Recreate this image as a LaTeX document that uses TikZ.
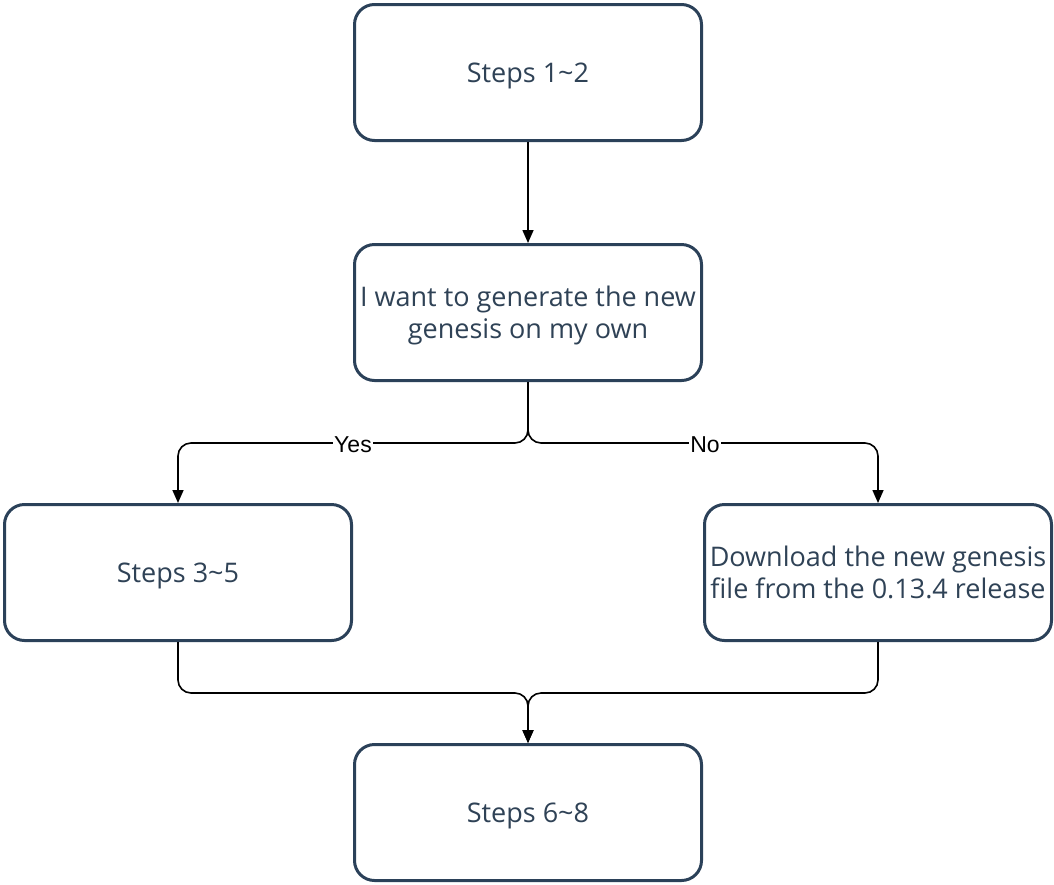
\documentclass[tikz,border=0pt]{standalone}
\usepackage{fontspec}
\setmainfont{Open Sans}
\newfontfamily\lblfont{Liberation Sans}
\usetikzlibrary{arrows.meta}
\definecolor{boxline}{HTML}{2B4159}
\definecolor{boxtext}{HTML}{2F4256}
\newcommand\boxtxt[1]{\raisebox{0pt}[\dimexpr\height+7pt\relax][\depth]{\begin{tabular}{@{}c@{}}#1\end{tabular}}}
\begin{document}
\begin{tikzpicture}[x=1pt,y=-1pt,
  stepbox/.style={draw=boxline, line width=3pt, rounded corners=20pt, fill=white,
    minimum width=347pt, minimum height=136pt, inner sep=0pt, align=center,
    text=boxtext, font=\fontsize{27}{31.5}\selectfont},
  conn/.style={draw=black, line width=1.6pt, rounded corners=13pt,
    -{Triangle[length=13pt,width=11pt]}},
  lbl/.style={fill=white, inner sep=1pt, text=black, font=\lblfont\fontsize{23}{27}\selectfont}]
\useasboundingbox (0,0) rectangle (1054,884);
\node[stepbox] (s12) at (528,72.5) {\boxtxt{Steps 1\textasciitilde 2}};
\node[stepbox] (q) at (528,312.5) {\boxtxt{I want to generate the new\\genesis on my own}};
\node[stepbox] (s35) at (178,572.5) {\boxtxt{Steps 3\textasciitilde 5}};
\node[stepbox] (dl) at (878,572.5) {\boxtxt{Download the new genesis\\file from the 0.13.4 release}};
\node[stepbox] (s68) at (528,812.5) {\boxtxt{Steps 6\textasciitilde 8}};
\coordinate (qj) at (528,443);
\coordinate (bj) at (528,693);
\draw[conn] (s12.south) -- (q.north);
\draw[conn] (q.south) -- (qj) -- (178,443) -- (s35.north);
\draw[conn] (q.south) -- (qj) -- (878,443) -- (dl.north);
\draw[conn] (s35.south) -- (178,693) -- (bj) -- (s68.north);
\draw[conn] (dl.south) -- (878,693) -- (bj) -- (s68.north);
\node[lbl] (yes) at (353,444.5) {Yes};
\node[lbl] (no) at (705,444.5) {No};
\end{tikzpicture}
\end{document}
